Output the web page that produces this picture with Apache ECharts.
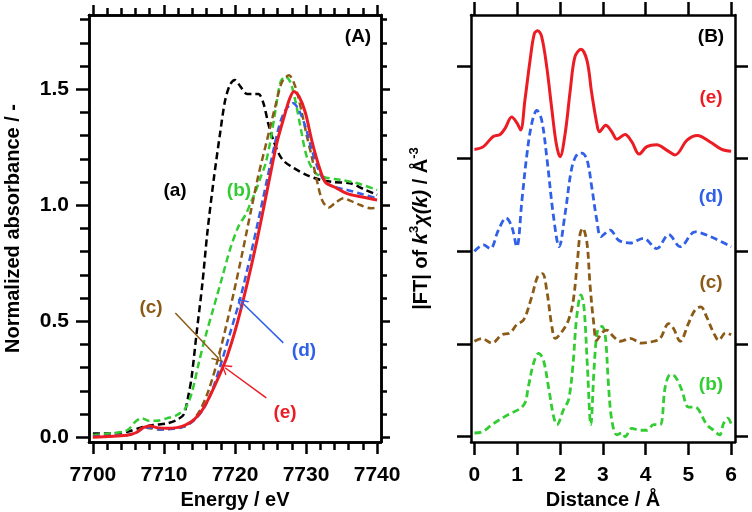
<!DOCTYPE html>
<html><head><meta charset="utf-8">
<script src="https://cdn.jsdelivr.net/npm/echarts@6/dist/echarts.min.js"></script>
<style>html,body{margin:0;padding:0;background:#fff}#c{width:752px;height:512px}</style>
</head><body><div id="c"></div>
<script>
// ---------- Panel A: XANES ----------
const energyTicks = [7700, 7710, 7720, 7730, 7740];
const energyMinorTicks = [7702,7704,7706,7708,7712,7714,7716,7718,7722,7724,7726,7728,7732,7734,7736,7738];
const absTicks = [0, 0.5, 1.0, 1.5];
const absMinorTicks = [0.1,0.2,0.3,0.4,0.6,0.7,0.8,0.9,1.1,1.2,1.3,1.4,1.6,1.7,1.8];

const aEnergy = [7700,7702.4,7704.8,7706.7,7708.5,7710.4,7711.8,7712.8,7713.5,7713.9,7714.6,7715.4,7716.1,7717.0,7717.9,7718.6,7719.3,7720.0,7720.8,7721.7,7722.6,7723.3,7724.0,7724.7,7725.4,7726.2,7726.9,7728.3,7730.1,7732.0,7733.9,7736.2,7738.1,7740];
const aAbs    = [0.017,0.017,0.024,0.042,0.053,0.06,0.075,0.10,0.19,0.26,0.45,0.66,0.88,1.11,1.31,1.45,1.52,1.54,1.51,1.48,1.48,1.48,1.44,1.35,1.28,1.22,1.19,1.16,1.13,1.11,1.10,1.095,1.07,1.045];

const bEnergy = [7700,7702.4,7704.8,7706.0,7706.9,7707.8,7709.0,7710.4,7711.8,7713.0,7713.9,7714.9,7715.8,7717.0,7718.2,7719.3,7720.5,7721.5,7722.2,7722.9,7723.6,7724.3,7725.0,7725.7,7726.4,7727.1,7727.8,7728.5,7729.2,7730.1,7731.3,7732.7,7734.8,7737.2,7740];
const bAbs    = [0.01,0.017,0.03,0.068,0.082,0.072,0.072,0.082,0.096,0.125,0.19,0.32,0.43,0.56,0.69,0.81,0.91,0.96,1.01,1.06,1.12,1.18,1.28,1.41,1.53,1.555,1.53,1.45,1.34,1.21,1.14,1.12,1.11,1.095,1.066];

const cEnergy = [7700,7704.8,7706.2,7707.1,7708.1,7709.5,7711.4,7712.8,7713.9,7715.1,7716.3,7717.5,7718.6,7719.8,7721.0,7722.2,7723.3,7724.5,7725.7,7726.6,7727.6,7728.5,7729.4,7730.1,7730.8,7731.5,7732.3,7733.2,7734.1,7735.3,7736.2,7737.7,7739.1,7740];
const cAbs    = [0.006,0.01,0.024,0.043,0.039,0.034,0.039,0.046,0.068,0.118,0.204,0.326,0.46,0.62,0.79,0.97,1.13,1.28,1.43,1.53,1.56,1.51,1.40,1.30,1.21,1.11,1.02,0.99,1.01,1.03,1.02,1.0,0.987,0.99];

const dEnergy = [7700,7704.8,7706.2,7707.1,7708.1,7709.5,7711.4,7712.8,7714.2,7715.6,7716.8,7717.9,7719.3,7720.8,7722.2,7723.6,7725.0,7726.2,7727.1,7728.2,7729.0,7729.9,7730.8,7731.8,7732.7,7733.9,7735.8,7737.7,7740];
const dAbs    = [0.003,0.01,0.022,0.039,0.043,0.034,0.037,0.046,0.072,0.125,0.204,0.305,0.448,0.606,0.786,0.98,1.18,1.34,1.41,1.44,1.41,1.34,1.24,1.15,1.10,1.08,1.066,1.05,1.03];

const eEnergy = [7700,7704.8,7706.2,7707.1,7708.1,7709.0,7710.4,7711.8,7713.0,7714.2,7715.4,7716.5,7717.7,7718.9,7720.3,7721.7,7723.1,7724.5,7725.9,7726.9,7727.7,7728.3,7729.0,7729.9,7730.8,7731.8,7732.7,7733.9,7735.8,7737.7,7740];
const eAbs    = [0.0,0.009,0.022,0.042,0.049,0.042,0.039,0.042,0.053,0.075,0.118,0.18,0.26,0.35,0.49,0.66,0.85,1.06,1.27,1.38,1.46,1.49,1.47,1.40,1.28,1.17,1.10,1.08,1.05,1.037,1.023];

// ---------- Panel B: |FT| (offset curves) ----------
const distTicks = [0, 1, 2, 3, 4, 5, 6];
const ftTicks = [0, 1, 2, 3, 4];

const bDist = [0,0.17,0.44,0.76,1.15,1.26,1.38,1.50,1.61,1.73,1.85,1.93,2.08,2.20,2.30,2.39,2.49,2.56,2.64,2.72,2.80,2.88,2.98,3.06,3.13,3.21,3.33,3.45,3.52,3.68,3.87,4.03,4.19,4.34,4.46,4.58,4.69,4.85,5.00,5.16,5.24,5.43,5.59,5.73,5.82,5.92,6.0];
const bFT   = [0.04,0.05,0.14,0.23,0.34,0.54,0.79,0.90,0.83,0.54,0.22,0.13,0.29,0.40,0.76,1.29,1.53,1.40,0.76,0.13,0.76,1.15,1.19,1.08,0.58,0.18,0.02,0.04,0.0,0.09,0.07,0.07,0.13,0.13,0.54,0.67,0.65,0.50,0.32,0.32,0.29,0.13,0.07,0.02,0.14,0.20,0.14];

const cDist = [0,0.17,0.41,0.64,0.83,0.99,1.15,1.34,1.48,1.59,1.69,1.81,1.89,2.04,2.20,2.31,2.41,2.47,2.53,2.63,2.70,2.78,2.86,2.98,3.09,3.25,3.41,3.64,3.91,4.19,4.34,4.54,4.65,4.81,5.00,5.16,5.29,5.43,5.59,5.71,5.87,6.0];
const cFT   = [1.03,1.06,1.01,1.10,1.12,1.21,1.26,1.51,1.73,1.76,1.58,1.19,1.06,1.13,1.26,1.47,1.91,2.19,2.25,2.09,1.65,1.26,1.04,1.12,1.15,1.08,1.03,1.06,1.01,1.03,1.06,1.22,1.17,1.03,1.22,1.37,1.40,1.29,1.12,1.04,1.12,1.10];

const dDist = [0,0.21,0.37,0.56,0.74,0.87,0.99,1.11,1.22,1.34,1.46,1.57,1.69,1.85,1.98,2.12,2.28,2.41,2.51,2.63,2.74,2.86,2.96,3.17,3.37,3.64,3.95,4.26,4.54,4.81,5.16,5.51,6.0];
const dFT   = [2.0,2.07,2.03,2.23,2.36,2.27,2.05,2.55,3.02,3.38,3.52,3.42,3.02,2.37,2.05,2.41,2.91,3.05,3.06,2.99,2.70,2.34,2.16,2.23,2.12,2.09,2.14,2.03,2.18,2.05,2.21,2.16,2.05];

const eDist = [0,0.21,0.44,0.60,0.72,0.87,1.0,1.08,1.18,1.30,1.40,1.48,1.57,1.69,1.81,1.91,2.0,2.12,2.24,2.35,2.49,2.63,2.74,2.86,2.92,3.07,3.21,3.33,3.52,3.68,3.85,4.03,4.26,4.50,4.69,4.97,5.21,5.51,5.78,6.0];
const eFT   = [3.10,3.13,3.24,3.26,3.33,3.45,3.38,3.31,3.63,4.06,4.35,4.38,4.32,3.99,3.53,3.17,3.02,3.27,3.74,4.10,4.18,4.06,3.71,3.38,3.29,3.36,3.29,3.21,3.26,3.18,3.05,3.13,3.15,3.09,3.04,3.20,3.25,3.18,3.10,3.08];

const colors = {a:'#000000', b:'#33cc33', c:'#8b5a16', d:'#3060e8', e:'#ec1c24'};
const FONT = '"Liberation Sans", Arial, sans-serif';

function zip(xs, ys){ return xs.map((x,i)=>[x, ys[i]]); }

const chevron = 'path://M0,0 L6,10 L4.4,10 L0,2.6 L-4.4,10 L-6,10 Z';
function arrow(color, from, to){
  return {
    silent:true, animation:false,
    symbol:['none', chevron], symbolSize:12, symbolKeepAspect:true,
    lineStyle:{color:color, width:1.5, type:'solid'},
    itemStyle:{color:color},
    label:{show:false},
    data:[[{coord:from},{coord:to}]]
  };
}

function line(name, xs, ys, color, dashed, xi, yi, width, smooth, extra){
  return Object.assign({
    type:'line', name:name, data:zip(xs, ys), xAxisIndex:xi, yAxisIndex:yi,
    showSymbol:false, symbol:'none', smooth:smooth, animation:false,
    lineStyle:{color:color, width:width, type: dashed ? [7,4] : 'solid'},
    itemStyle:{color:color}
  }, extra||{});
}

function tickAxis(base, vals, len, margin, fmt){
  return Object.assign({
    type:'value', splitLine:{show:false},
    axisLine:{show:true, onZero:false, lineStyle:{color:'#000', width:2.5}},
    axisTick:{show:true, customValues: vals, length:len, lineStyle:{color:'#000', width:2.5}},
    axisLabel: margin ? {show:true, customValues: vals, color:'#000', fontWeight:'bold', fontSize:21, fontFamily:FONT, margin: margin, formatter: fmt} : {show:false}
  }, base);
}

const fmtInt = v => String(Math.round(v));
const fmt1 = v => Number(v).toFixed(1);

const xA = {gridIndex:0, min:7699.45, max:7740.55};
const yA = {gridIndex:0, min:-0.02, max:1.82};
const xB = {gridIndex:1, min:-0.08, max:6.09};
const yB = {gridIndex:1, min:-0.057, max:4.55};

const nameStyle = {color:'#000', fontWeight:'bold', fontSize:20, fontFamily:FONT};

const option = {
  backgroundColor:'#fff',
  animation:false,
  grid:[
    {left:89, right:371, top:15, bottom:70, containLabel:false, outerBoundsMode:'none'},
    {left:471, right:17, top:15, bottom:70, containLabel:false, outerBoundsMode:'none'}
  ],
  xAxis:[
    tickAxis(Object.assign({position:'bottom', name:'Energy / eV', nameLocation:'middle', nameGap:48, nameTextStyle:nameStyle}, xA), energyTicks, 12, 23, fmtInt),
    tickAxis(Object.assign({position:'bottom'}, xA), energyMinorTicks, 8, 0),
    tickAxis(Object.assign({position:'top'}, xA), energyTicks, 10, 0),
    tickAxis(Object.assign({position:'top'}, xA), energyMinorTicks, 7, 0),
    tickAxis(Object.assign({position:'bottom', name:'Distance / Å', nameLocation:'middle', nameGap:48, nameTextStyle:nameStyle}, xB), distTicks, 13, 23, fmtInt),
    tickAxis(Object.assign({position:'top'}, xB), distTicks, 13, 0)
  ],
  yAxis:[
    tickAxis(Object.assign({position:'left', name:'Normalized absorbance / -', nameLocation:'middle', nameGap:66, nameTextStyle:nameStyle}, yA), absTicks, 13, 20, fmt1),
    tickAxis(Object.assign({position:'left'}, yA), absMinorTicks, 9, 0),
    tickAxis(Object.assign({position:'right'}, yA), absTicks, 9, 0),
    tickAxis(Object.assign({position:'right'}, yA), absMinorTicks, 6, 0),
    tickAxis(Object.assign({position:'left', name:'|FT| of {i|k}{sup|3}{i|χ(k)} / Å{sup|-3}', nameLocation:'middle', nameGap:36,
      nameTextStyle:Object.assign({}, nameStyle, {rich:{
        i:{fontStyle:'italic', fontWeight:'bold', fontSize:20, fontFamily:FONT, color:'#000'},
        sup:{fontWeight:'bold', fontSize:13, fontFamily:FONT, color:'#000', padding:[0,0,14,0]}
      }})}, yB), ftTicks, 14, 0),
    tickAxis(Object.assign({position:'right'}, yB), ftTicks, 13, 0)
  ],
  series:[
    line('a', aEnergy, aAbs, colors.a, true, 0, 0, 2.5, 0.3),
    line('b', bEnergy, bAbs, colors.b, true, 0, 0, 2.5, 0.3),
    line('c', cEnergy, cAbs, colors.c, true, 0, 0, 2.5, 0.3, {markLine: arrow(colors.c, [7711.6, 0.536], [7717.7, 0.34])}),
    line('d', dEnergy, dAbs, colors.d, true, 0, 0, 2.5, 0.3, {markLine: arrow(colors.d, [7726.8, 0.407], [7720.9, 0.583])}),
    line('e', eEnergy, eAbs, colors.e, false, 0, 0, 3, 0.3, {markLine: arrow(colors.e, [7724.4, 0.17], [7718.6, 0.30])}),
    line('b', bDist, bFT, colors.b, true, 4, 4, 2.8, 0.35),
    line('c', cDist, cFT, colors.c, true, 4, 4, 2.8, 0.35),
    line('d', dDist, dFT, colors.d, true, 4, 4, 2.8, 0.35),
    line('e', eDist, eFT, colors.e, false, 4, 4, 3, 0.35)
  ],
  graphic:[
    {type:'text', x:358, y:37, style:{text:'(A)', fill:'#000', font:'bold 19px '+FONT, textAlign:'center', textVerticalAlign:'middle'}},
    {type:'text', x:711, y:37, style:{text:'(B)', fill:'#000', font:'bold 19px '+FONT, textAlign:'center', textVerticalAlign:'middle'}},
    {type:'text', x:175, y:191, style:{text:'(a)', fill:colors.a, font:'bold 19px '+FONT, textAlign:'center', textVerticalAlign:'middle'}},
    {type:'text', x:239, y:191, style:{text:'(b)', fill:colors.b, font:'bold 19px '+FONT, textAlign:'center', textVerticalAlign:'middle'}},
    {type:'text', x:151, y:308, style:{text:'(c)', fill:colors.c, font:'bold 19px '+FONT, textAlign:'center', textVerticalAlign:'middle'}},
    {type:'text', x:304, y:351, style:{text:'(d)', fill:colors.d, font:'bold 19px '+FONT, textAlign:'center', textVerticalAlign:'middle'}},
    {type:'text', x:285, y:413, style:{text:'(e)', fill:colors.e, font:'bold 19px '+FONT, textAlign:'center', textVerticalAlign:'middle'}},
    {type:'text', x:711, y:98, style:{text:'(e)', fill:colors.e, font:'bold 19px '+FONT, textAlign:'center', textVerticalAlign:'middle'}},
    {type:'text', x:711, y:197, style:{text:'(d)', fill:colors.d, font:'bold 19px '+FONT, textAlign:'center', textVerticalAlign:'middle'}},
    {type:'text', x:711, y:283, style:{text:'(c)', fill:colors.c, font:'bold 19px '+FONT, textAlign:'center', textVerticalAlign:'middle'}},
    {type:'text', x:711, y:385, style:{text:'(b)', fill:colors.b, font:'bold 19px '+FONT, textAlign:'center', textVerticalAlign:'middle'}}
  ]
};

const chart = echarts.init(document.getElementById('c'), null, {renderer:'canvas'});
chart.setOption(option);
</script>
</body></html>
